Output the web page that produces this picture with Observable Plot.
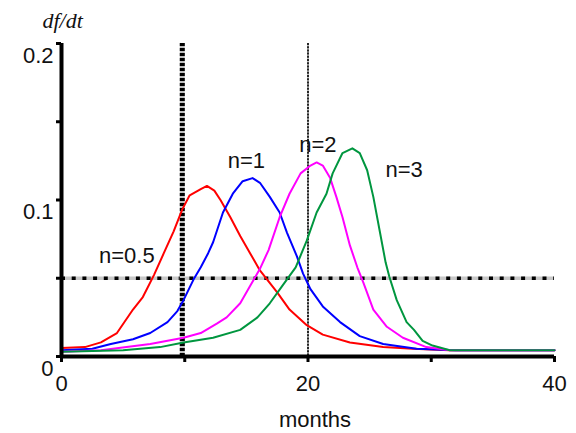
<!DOCTYPE html>
<html>
<head>
<meta charset="utf-8">
<script src="https://cdn.jsdelivr.net/npm/d3@7"></script>
<script src="https://cdn.jsdelivr.net/npm/@observablehq/plot@0.6"></script>
<style>
  html, body { margin: 0; padding: 0; background: #fff; }
  #chart svg { display: block; }
</style>
</head>
<body>
<div id="chart"></div>
<script>
// ---- data ----
const redMonths = [0, 1.9, 3.2, 4.5, 5.8, 6.6, 7.5, 8.3, 9.1, 9.8, 10.4, 11.3, 11.8, 12.4, 12.9, 13.7, 14.5, 15.3, 16.1, 17.5, 18.5, 19.9, 21.2, 23.4, 26.1, 28.5, 31.5, 40];
const redValues = [0.0055, 0.006, 0.009, 0.015, 0.030, 0.038, 0.052, 0.066, 0.080, 0.094, 0.103, 0.107, 0.109, 0.106, 0.100, 0.089, 0.077, 0.066, 0.055, 0.041, 0.030, 0.020, 0.014, 0.009, 0.006, 0.005, 0.004, 0.004];

const blueMonths = [0, 2.5, 4.0, 5.8, 7.2, 8.6, 9.4, 9.9, 10.7, 11.3, 11.9, 12.3, 13.1, 13.9, 14.7, 15.5, 16.1, 16.9, 17.7, 18.3, 19.1, 19.6, 20.2, 21.2, 22.6, 24.2, 26.1, 28.8, 32, 40];
const blueValues = [0.004, 0.005, 0.008, 0.011, 0.015, 0.022, 0.029, 0.036, 0.049, 0.057, 0.066, 0.073, 0.092, 0.104, 0.112, 0.114, 0.111, 0.102, 0.092, 0.079, 0.064, 0.053, 0.043, 0.032, 0.022, 0.013, 0.008, 0.005, 0.004, 0.004];

const magentaMonths = [0, 3.2, 7.2, 9.9, 11.3, 12.6, 13.4, 14.5, 15.3, 16.1, 16.8, 17.7, 18.5, 19.4, 20.2, 20.7, 21.2, 21.8, 22.3, 22.8, 23.4, 24.0, 24.5, 25.3, 26.4, 27.7, 29.6, 31.5, 40];
const magentaValues = [0.003, 0.004, 0.008, 0.012, 0.015, 0.021, 0.025, 0.034, 0.045, 0.056, 0.068, 0.089, 0.104, 0.117, 0.122, 0.124, 0.122, 0.114, 0.102, 0.089, 0.071, 0.057, 0.047, 0.030, 0.019, 0.012, 0.006, 0.004, 0.004];

const greenMonths = [0, 5, 8.0, 9.9, 12.3, 14.5, 15.9, 16.9, 17.9, 19.0, 19.9, 20.7, 21.5, 22.0, 22.8, 23.6, 24.2, 24.8, 25.3, 25.8, 26.3, 26.6, 27.2, 28.0, 28.6, 29.3, 30.1, 31.5, 40];
const greenValues = [0.003, 0.004, 0.006, 0.009, 0.012, 0.017, 0.025, 0.034, 0.045, 0.057, 0.074, 0.092, 0.104, 0.117, 0.130, 0.133, 0.130, 0.119, 0.102, 0.081, 0.060, 0.051, 0.036, 0.022, 0.017, 0.010, 0.007, 0.004, 0.004];

const seriesNames = ["n=0.5", "n=1", "n=2", "n=3"];
const seriesColors = ["#ff0000", "#0000ff", "#ff00ff", "#00963f"];
const labelMonths = [5.3, 15.0, 20.8, 27.8];
const labelValues = [0.064, 0.125, 0.135, 0.119];

const xTicks = [0, 10, 20, 30, 40];
const xTickLabels = [0, 20, 40];
const yTicks = [0, 0.05, 0.1, 0.15, 0.2];
const yTickLabels = [0, 0.1, 0.2];
const refY = [0.05];
const refXThick = [9.8];
const refXThin = [20];

// ---- build table ----
const allMonths = [redMonths, blueMonths, magentaMonths, greenMonths];
const allValues = [redValues, blueValues, magentaValues, greenValues];
const rows = [];
seriesNames.forEach((s, i) => {
  allMonths[i].forEach((m, j) => rows.push({series: s, month: m, value: allValues[i][j]}));
});
const labels = seriesNames.map((s, i) => ({series: s, month: labelMonths[i], value: labelValues[i]}));

const sans = "Liberation Sans, Arial, sans-serif";
const fmtY = d => d === 0 ? "0" : String(d);
const FS = 22;

const chart = Plot.plot({
  width: 576,
  height: 433,
  marginLeft: 61,
  marginRight: 22,
  marginTop: 43,
  marginBottom: 77,
  style: {fontFamily: sans, fontSize: FS + "px", background: "#fff"},
  x: {domain: [0, 40]},
  y: {domain: [0, 0.2]},
  color: {domain: seriesNames, range: seriesColors},
  marks: [
    // reference lines
    Plot.ruleY(refY, {x1: 0, x2: 40, stroke: "#c8c8c8", strokeWidth: 3.5}),
    Plot.ruleY(refY, {x1: 0, x2: 40, stroke: "#000", strokeWidth: 3.5, strokeDasharray: "4,6.7"}),
    Plot.ruleX(refXThick, {stroke: "#c0c0c0", strokeWidth: 5}),
    Plot.ruleX(refXThick, {stroke: "#000", strokeWidth: 5, strokeDasharray: "3,2"}),
    Plot.ruleX(refXThin, {stroke: "#aaa", strokeWidth: 1.6}),
    Plot.ruleX(refXThin, {stroke: "#000", strokeWidth: 1.6, strokeDasharray: "2,1.2"}),
    // curves
    Plot.line(rows, {x: "month", y: "value", z: "series", stroke: "series", strokeWidth: 2}),
    // series labels
    Plot.text(labels, {x: "month", y: "value", text: "series", fill: "#111", fontSize: FS}),
    // axes
    Plot.ruleX([0], {stroke: "#000", strokeWidth: 4}),
    Plot.ruleY([0], {stroke: "#000", strokeWidth: 4}),
    Plot.axisX({ticks: xTicks, tickSize: 6, strokeWidth: 3, tickFormat: () => "", label: null}),
    Plot.axisY({ticks: yTicks, tickSize: 5, strokeWidth: 3, tickFormat: () => "", label: null}),
    Plot.text(xTickLabels, {x: d => d, frameAnchor: "bottom", lineAnchor: "middle", dy: 27, fill: "#111", fontSize: FS}),
    Plot.text(yTickLabels, {y: d => d, frameAnchor: "left", textAnchor: "end", lineAnchor: "middle", dx: -8, dy: 12, text: fmtY, fill: "#111", fontSize: FS}),
    Plot.text(["months"], {frameAnchor: "bottom", lineAnchor: "middle", dx: 7, dy: 63, fill: "#111", fontSize: FS}),
    Plot.text(["df/dt"], {frameAnchor: "top-left", textAnchor: "start", lineAnchor: "middle", dx: -19, dy: -23,
      fontFamily: "Liberation Serif, Times New Roman, serif", fontStyle: "italic", fontSize: FS, fill: "#111"})
  ]
});
document.getElementById("chart").append(chart);
</script>
</body>
</html>
